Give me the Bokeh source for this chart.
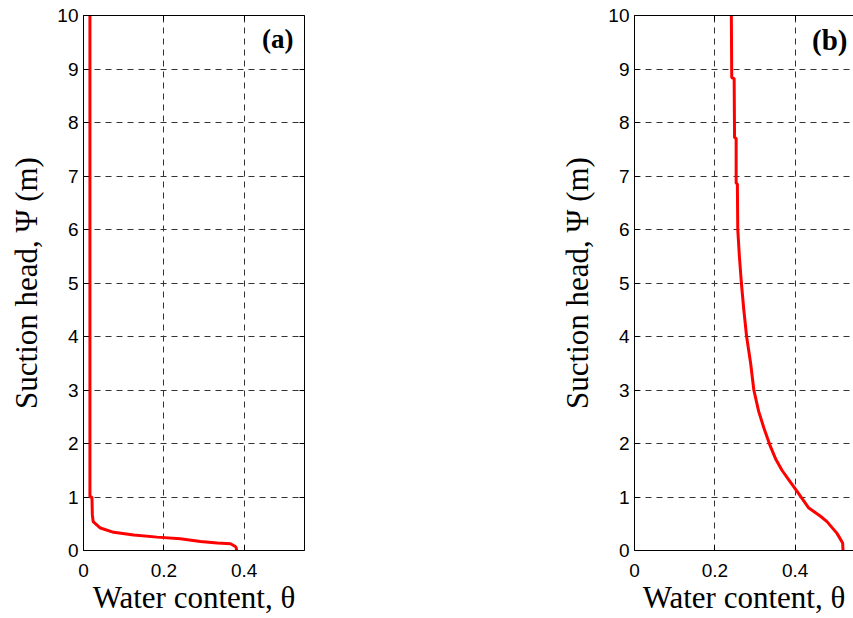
from bokeh.plotting import figure
from bokeh.models import LinearAxis, Range1d, FixedTicker, Label, Grid, NumeralTickFormatter
from bokeh.layouts import row
from bokeh.embed import file_html
from bokeh.resources import INLINE

# Panel (a): water content vs suction head
a_theta = [0.381, 0.380, 0.378, 0.366, 0.333, 0.291, 0.241, 0.183, 0.125, 0.075,
           0.042, 0.024, 0.022, 0.021, 0.016, 0.016]
a_psi = [0.00, 0.05, 0.075, 0.125, 0.14, 0.17, 0.22, 0.25, 0.29, 0.34,
         0.42, 0.54, 0.67, 1.00, 1.00, 10.0]

# Panel (b)
b_theta = [0.519, 0.518, 0.504, 0.479, 0.463, 0.433, 0.405, 0.384, 0.367, 0.352,
           0.338, 0.322, 0.309, 0.297, 0.289, 0.279, 0.272, 0.266, 0.261, 0.257,
           0.256, 0.253, 0.253, 0.249, 0.248, 0.242, 0.241]
b_psi = [0.00, 0.14, 0.32, 0.54, 0.64, 0.80, 1.10, 1.32, 1.50, 1.70,
         1.95, 2.29, 2.60, 3.00, 3.50, 4.00, 4.50, 5.00, 5.50, 6.00,
         6.85, 6.87, 7.70, 7.72, 8.82, 8.84, 10.0]

x_ticks = [0, 0.2, 0.4]
y_ticks = [0, 1, 2, 3, 4, 5, 6, 7, 8, 9, 10]
x_label = "Water content, θ"
y_label = "Suction head, Ψ (m)"
tags = ["(a)", "(b)"]

SERIF = "Liberation Serif"
SANS = "Liberation Sans"


def style_axis(ax, labels=True):
    ax.axis_line_color = "black"
    ax.axis_line_width = 1
    ax.major_tick_in = 5
    ax.major_tick_out = 0
    ax.minor_tick_line_color = None
    ax.major_tick_line_color = "black"
    if labels:
        ax.major_label_text_font = SANS
        ax.major_label_text_font_size = "19px"
        ax.major_label_text_color = "black"
        ax.axis_label_text_font = SERIF
        ax.axis_label_text_font_size = "31px"
        ax.axis_label_text_font_style = "normal"
        ax.axis_label_text_color = "black"
    else:
        ax.major_label_text_color = None
        ax.major_label_text_font_size = "1px"
        ax.major_label_standoff = 0


def make_panel(theta, psi, tag, width, x_end, right_box, tag_dx, tag_size):
    p = figure(width=width, height=618,
               x_range=Range1d(0, x_end), y_range=Range1d(0, 10),
               output_backend="svg", toolbar_location=None,
               x_axis_location=None, y_axis_location=None,
               min_border_left=83, min_border_top=15, min_border_bottom=68,
               min_border_right=(width - 83 - 221) if right_box else 0,
               outline_line_color=None, background_fill_color="white",
               border_fill_color="white")

    # hide any default grids
    for g in list(p.center):
        if isinstance(g, Grid):
            g.visible = False

    xt = FixedTicker(ticks=x_ticks)
    yt = FixedTicker(ticks=y_ticks)

    for dim, tk in ((0, xt), (1, yt)):
        g = Grid(dimension=dim, ticker=tk, grid_line_color="#333333",
                 grid_line_dash="6 5", grid_line_width=1)
        p.add_layout(g)

    bx = LinearAxis(ticker=xt, axis_label=x_label,
                    formatter=NumeralTickFormatter(format="0.[0]"))
    style_axis(bx)
    bx.major_label_standoff = 13
    bx.axis_label_standoff = 0
    p.add_layout(bx, "below")

    ly = LinearAxis(ticker=yt, axis_label=y_label)
    style_axis(ly)
    ly.major_label_standoff = 5
    ly.axis_label_standoff = 10
    p.add_layout(ly, "left")

    tx = LinearAxis(ticker=xt)
    style_axis(tx, labels=False)
    p.add_layout(tx, "above")

    if right_box:
        ry = LinearAxis(ticker=yt)
        style_axis(ry, labels=False)
        p.add_layout(ry, "right")

    p.line(theta, psi, line_color="#ff0000", line_width=3)

    p.add_layout(Label(x=x_end, y=10, x_offset=tag_dx, y_offset=-8, text=tag,
                       text_align="right", text_baseline="top",
                       text_font=SERIF, text_font_style="bold",
                       text_font_size=tag_size, text_color="black"))
    return p


W1 = 551
W2 = 302
x_end_a = 0.55
x_end_b = 0.55 * (W2 - 83) / 221.0

pa = make_panel(a_theta, a_psi, tags[0], W1, x_end_a, True, -11, "27px")
pb = make_panel(b_theta, b_psi, tags[1], W2, x_end_b, False, -6, "29px")

layout = row(pa, pb)
open("out.html", "w").write(file_html(layout, INLINE))
